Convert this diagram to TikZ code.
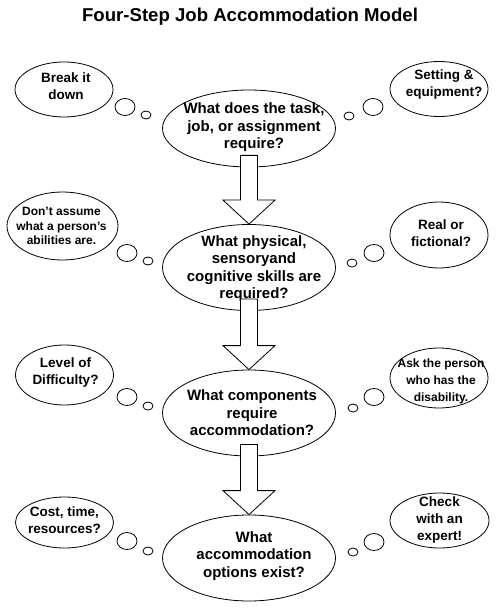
\documentclass[tikz,border=0pt]{standalone}
\usepackage{fontspec}
\setmainfont{Liberation Sans}
\usetikzlibrary{shapes,arrows,positioning,calc}

\begin{document}
\begin{tikzpicture}[x=1pt,y=-1pt,line width=0.8pt,
    ask/.style={draw,ellipse,inner sep=0pt,fill=white,minimum width=173pt,minimum height=86pt},
    side/.style={draw,ellipse,inner sep=0pt,minimum width=98pt},
    qtext/.style={align=center,font=\bfseries\fontsize{15}{17.5}\selectfont},
    ttext/.style={align=center,font=\bfseries\fontsize{13.5}{17}\selectfont},
    stext/.style={align=center,font=\bfseries\fontsize{12}{14.5}\selectfont},
    puff/.style={draw,ellipse,inner sep=0pt,minimum width=20pt,minimum height=17pt},
    tinypuff/.style={draw,ellipse,inner sep=0pt,minimum width=10pt,minimum height=8pt}]
                \useasboundingbox (0,0) rectangle (497,612);
                % title
                \node[font=\bfseries\fontsize{18.6}{21}\selectfont] (title) at (250,17) {Four-Step Job Accommodation Model};
                % the four questions
                \node[ask,minimum height=77pt,label={[qtext,xshift=5pt,yshift=1pt]center:{What does the task,\\job, or assignment\\require?}}] (q1) at (249,128.5) {};
                \node[ask,label={[qtext,xshift=5pt,yshift=-1pt]center:{What physical,\\sensoryand\\cognitive skills are\\required?}}] (q2) at (249,267.5) {};
                \node[ask,label={[qtext,xshift=3pt]center:{What components\\require\\accommodation?}}] (q3) at (249,413) {};
                \node[ask,label={[qtext,xshift=5pt,yshift=2pt]center:{What\\accommodation\\options exist?}}] (q4) at (249,558) {};
                % block arrows between the questions
                \foreach \a/\b in {q1/q2,q2/q3,q3/q4} {
                    \draw[fill=white] ($(\a.south)+(-8.5,-12)$) -- ($(\a.south)+(8.5,-12)$) -- ($(\b.north)+(8.5,-24)$)
                        -- ($(\b.north)+(26,-24)$) -- (\b.north) -- ($(\b.north)+(-26,-24)$) -- ($(\b.north)+(-8.5,-24)$) -- cycle;
                }
                % thoughts on the left
                \node[side,minimum height=55pt,label={[ttext,xshift=2pt,yshift=3pt]center:{Break it\\down}}] (l1) at (64,89.5) {};
                \node[side,minimum width=111pt,minimum height=68pt,label={[stext,xshift=-1pt]center:{Don’t assume\\what a person’s\\abilities are.}}] (l2) at (62.5,226) {};
                \node[side,minimum height=60pt,label={[ttext,xshift=1pt,yshift=2.5pt]center:{Level of\\Difficulty?}}] (l3) at (64.5,375) {};
                \node[side,minimum height=51pt,label={[ttext,yshift=2pt]center:{Cost, time,\\resources?}}] (l4) at (64.5,522.5) {};
                % thoughts on the right
                \node[side,minimum height=55pt,label={[ttext,xshift=5pt,yshift=4pt]center:{Setting \&\\equipment?}}] (r1) at (439,89) {};
                \node[side,minimum height=66pt,label={[ttext,xshift=2pt,yshift=1.5pt]center:{Real or\\fictional?}}] (r2) at (439,235) {};
                \node[side,minimum height=60pt,label={[stext,xshift=2pt,yshift=-3pt,font=\bfseries\fontsize{12}{17}\selectfont]center:{Ask the person\\who has the\\disability.}}] (r3) at (439,378) {};
                \node[side,minimum width=99pt,minimum height=55pt,label={[ttext]center:{Check\\with an\\expert!}}] (r4) at (439.5,520.5) {};
                % little puffs
                \foreach \bx/\by/\sx/\sy [count=\i] in {125/107/146/115,127/253/148/261,127/397/148/406,127/541/148/551} {
                    \node[puff] (lp\i) at (\bx,\by) {};
                    \node[tinypuff] (ld\i) at (\sx,\sy) {};
                }
                \foreach \bx/\by/\sx/\sy [count=\i] in {373/107/349/116,374/253/352/263,374/397/353/408,374/542/353/552} {
                    \node[puff] (rp\i) at (\bx,\by) {};
                    \node[tinypuff] (rd\i) at (\sx,\sy) {};
                }
            \end{tikzpicture}
\end{document}
